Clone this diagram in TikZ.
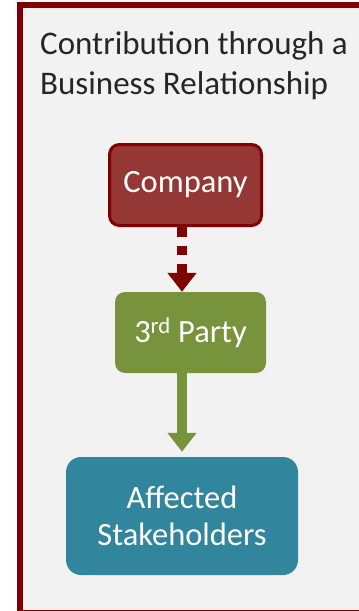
\documentclass[tikz,border=0pt]{standalone}
\usepackage{fontspec}
\setmainfont{Carlito}
\usepackage{tikz}
\usetikzlibrary{arrows.meta}
\definecolor{framered}{RGB}{128,0,0}
\definecolor{framebg}{RGB}{242,242,242}
\definecolor{companyred}{RGB}{149,55,53}
\definecolor{partygreen}{RGB}{119,147,60}
\definecolor{stakeblue}{RGB}{49,133,156}
\definecolor{titlegray}{RGB}{38,38,38}

\begin{document}
\begin{tikzpicture}[
    x=1pt, y=-1pt,
    box/.style={rectangle, rounded corners=10pt, text=white, align=center,
                font=\fontsize{32.5}{37}\selectfont},
    arrow/.style={line width=10pt, -{Triangle[width=28pt,length=19pt]}}
]
\useasboundingbox (0,0) rectangle (359,611);
\clip (0,0) rectangle (359,611);
\fill[framebg] (20,5) rectangle (365,613);
\draw[framered, line width=6pt] (20,5) rectangle (365,613);

\node[anchor=base west, align=left, text=titlegray,
      font=\fontsize{33}{40}\selectfont, inner sep=0pt] (title) at (40,94)
      {Contribution through a\\Business Relationship};

\node[box, draw=framered, fill=companyred, line width=3pt,
      minimum width=152pt, minimum height=81pt] (company) at (185.5,185) {Company};
\node[box, fill=partygreen, minimum width=151pt, minimum height=81pt]
      (party) at (190.5,332.5) {3\textsuperscript{rd} Party};
\node[box, fill=stakeblue, rounded corners=15pt, minimum width=232pt,
      minimum height=118pt] (stake) at (182,516) {Affected\\Stakeholders};

\draw[arrow, framered, dash pattern=on 9.5pt off 9pt]
      (company.south -| stake) -- (party.north -| stake);
\draw[arrow, partygreen, shorten >=5pt] (party.south -| stake) -- (stake.north);
\end{tikzpicture}
\end{document}
